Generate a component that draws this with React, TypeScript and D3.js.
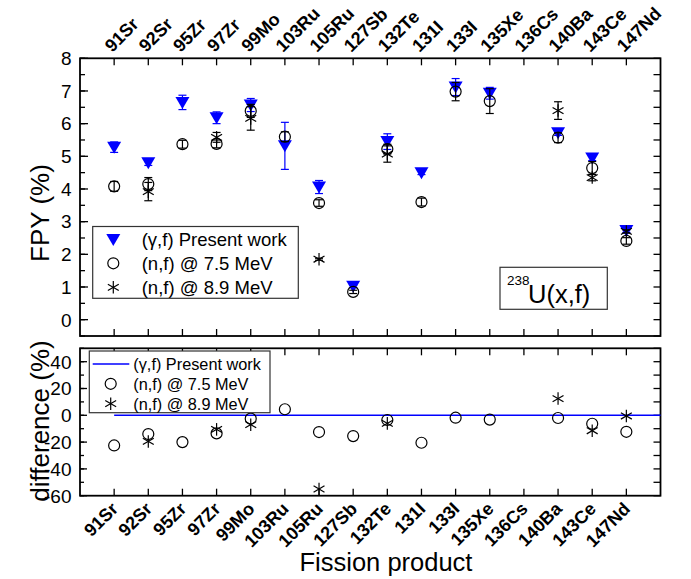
import React from "react";
import * as d3 from "d3";

// fission products, in plot order
const categories = ["91Sr", "92Sr", "95Zr", "97Zr", "99Mo", "103Ru", "105Ru", "127Sb", "132Te", "131I", "133I", "135Xe", "136Cs", "140Ba", "143Ce", "147Nd"];

// FPY (%) values
const gammaFpy = [5.28, 4.80, 6.65, 6.18, 6.57, 5.32, 4.06, 1.02, 5.45, 4.50, 7.12, 6.93, null, 5.72, 4.95, 2.73];
const gammaErr = [0.16, 0.08, 0.22, 0.18, 0.2, 0.72, 0.2, 0.04, 0.24, 0.06, 0.26, 0.18, null, 0.08, 0.08, 0.06];
const n75Fpy = [4.08, 4.15, 5.37, 5.38, 6.39, 5.6, 3.57, 0.85, 5.22, 3.6, 6.98, 6.69, null, 5.57, 4.64, 2.41];
const n75Err = [0.15, 0.2, 0.12, 0.12, 0.2, 0.15, 0.1, 0.05, 0.15, 0.12, 0.28, 0.38, null, 0.15, 0.2, 0.1];
const n89Fpy = [null, 3.92, null, 5.58, 6.16, null, 1.85, null, 5.07, null, null, null, null, 6.4, 4.35, 2.7];
const n89Err = [null, 0.28, null, 0.15, 0.36, null, 0.03, null, 0.25, null, null, null, null, 0.27, 0.1, 0.05];

// difference (%) relative to present work
const n75Diff = [-22.5, -14, -20, -13.5, -2.5, 4.5, -12.5, -15.5, -3.5, -20.5, -1.8, -3.2, null, -2, -6.3, -12.3];
const n89Diff = [null, -19.5, null, -10.5, -7, null, -55, null, -6, null, null, null, null, 12.5, -11.5, -0.5];

const FONT = "'Liberation Sans', Arial, Helvetica, sans-serif";
const BLUE = "#0000ff";

const x = d3.scaleLinear().domain([-1, 16]).range([80, 660.5]);
const yTop = d3.scaleLinear().domain([-0.5, 8]).range([336, 58.3]);
const yBot = d3.scaleLinear().domain([-60, 50]).range([495.7, 348.3]);

const triPath = "M-7,-5.5 L7,-5.5 L0,6.5 Z";

const Star = ({ cx, cy, r = 6.3 }: { cx: number; cy: number; r?: number }) => (
  <g transform={`translate(${cx},${cy})`} stroke="#000" strokeWidth={1.2}>
    {[90, 30, 150].map((a) => {
      const dx = r * Math.cos((a * Math.PI) / 180);
      const dy = r * Math.sin((a * Math.PI) / 180);
      return <line key={a} x1={-dx} y1={-dy} x2={dx} y2={dy} />;
    })}
  </g>
);

const ErrBar = ({ cx, v, e, y, color }: any) => (
  <g stroke={color} strokeWidth={1.2}>
    <line x1={cx} x2={cx} y1={y(v - e)} y2={y(v + e)} />
    <line x1={cx - 4} x2={cx + 4} y1={y(v - e)} y2={y(v - e)} />
    <line x1={cx - 4} x2={cx + 4} y1={y(v + e)} y2={y(v + e)} />
  </g>
);

const Frame = ({ y, majors, minors, majorLen = 8, minorLen = 5, rightTicks }: any) => {
  const [y0, y1] = y.range();
  const x0 = x.range()[0];
  const x1 = x.range()[1];
  return (
    <g stroke="#000" strokeWidth={1.3}>
      {categories.map((c, i) => (
        <g key={c}>
          <line x1={x(i)} x2={x(i)} y1={y0} y2={y0 - 7} />
          <line x1={x(i)} x2={x(i)} y1={y1} y2={y1 + 7} />
        </g>
      ))}
      {minors.map((t: number) => (
        <line key={"mn" + t} x1={x0} x2={x0 + minorLen} y1={y(t)} y2={y(t)} />
      ))}
      {majors.map((t: number) => (
        <line key={"mj" + t} x1={x0} x2={x0 + majorLen} y1={y(t)} y2={y(t)} />
      ))}
      {rightTicks.map((t: number) => (
        <line key={"r" + t} x1={x1} x2={x1 - 7} y1={y(t)} y2={y(t)} />
      ))}
      <rect x={x0} y={y1} width={x1 - x0} height={y0 - y1} fill="none" strokeWidth={1.8} />
    </g>
  );
};

export default function App() {
  const topMajor = yTop.ticks(9);
  const topMinor = yTop.ticks(17);
  const botMajor = yBot.ticks(6);
  const botMinor = yBot.ticks(11);

  return (
    <svg width={691} height={579} style={{ position: "absolute", left: 0, top: 0, background: "#fff" }} fontFamily={FONT}>
      {/* top category labels */}
      {categories.map((c, i) => (
        <text key={"t" + c} transform={`translate(${x(i) - 2},53) rotate(-45)`} fontSize={18} fontWeight="bold">
          {c}
        </text>
      ))}
      {/* bottom category labels */}
      {categories.map((c, i) => (
        <text key={"b" + c} transform={`translate(${x(i) + 5},510) rotate(-45)`} fontSize={18} fontWeight="bold" textAnchor="end">
          {c}
        </text>
      ))}

      {/* ===== top panel ===== */}
      <Frame y={yTop} majors={topMajor} minors={topMinor} rightTicks={topMinor} />
      {topMajor.map((t) => (
        <text key={"ty" + t} x={71.5} y={yTop(t)} dy="0.36em" textAnchor="end" fontSize={19}>
          {t}
        </text>
      ))}
      <text transform={`translate(49,213) rotate(-90)`} textAnchor="middle" fontSize={26}>
        FPY (%)
      </text>

      {gammaFpy.map((v, i) =>
        v == null ? null : <ErrBar key={"ge" + i} cx={x(i)} v={v} e={gammaErr[i]} y={yTop} color={BLUE} />
      )}
      {gammaFpy.map((v, i) =>
        v == null ? null : <path key={"g" + i} d={triPath} transform={`translate(${x(i)},${yTop(v)})`} fill={BLUE} />
      )}
      {n75Fpy.map((v, i) =>
        v == null ? null : <ErrBar key={"ae" + i} cx={x(i)} v={v} e={n75Err[i]} y={yTop} color="#000" />
      )}
      {n75Fpy.map((v, i) =>
        v == null ? null : <circle key={"a" + i} cx={x(i)} cy={yTop(v)} r={5.5} fill="none" stroke="#000" strokeWidth={1.2} />
      )}
      {n89Fpy.map((v, i) =>
        v == null ? null : <ErrBar key={"be" + i} cx={x(i)} v={v} e={n89Err[i]} y={yTop} color="#000" />
      )}
      {n89Fpy.map((v, i) => (v == null ? null : <Star key={"b" + i} cx={x(i)} cy={yTop(v)} />))}

      {/* top legend */}
      <rect x={92.7} y={226.5} width={205.6} height={71.8} fill="#fff" stroke="#333" strokeWidth={1.2} />
      <path d={triPath} transform="translate(113.3,239.5)" fill={BLUE} />
      <circle cx={113.3} cy={263.3} r={5.5} fill="none" stroke="#000" strokeWidth={1.2} />
      <Star cx={113.3} cy={287.3} />
      <g fontSize={18.5}>
        <text x={141.7} y={239.5} dy="0.36em">(γ,f) Present work</text>
        <text x={141.7} y={263.3} dy="0.36em">(n,f) @ 7.5 MeV</text>
        <text x={141.7} y={287.3} dy="0.36em">(n,f) @ 8.9 MeV</text>
      </g>

      {/* reaction label */}
      <rect x={500} y={267.3} width={107.3} height={42} fill="#fff" stroke="#333" strokeWidth={1.2} />
      <text x={507} y={285} fontSize={13.5}>238</text>
      <text x={528} y={303.3} fontSize={25.5}>U(x,f)</text>

      {/* ===== bottom panel ===== */}
      <Frame y={yBot} majors={botMajor} minors={botMinor} majorLen={7} minorLen={4} rightTicks={botMinor} />
      {botMajor.map((t) => (
        <text key={"by" + t} x={71.5} y={yBot(t)} dy="0.36em" textAnchor="end" fontSize={19}>
          {t}
        </text>
      ))}
      <text transform={`translate(49,421) rotate(-90)`} textAnchor="middle" fontSize={26}>
        difference (%)
      </text>

      <line x1={x(0)} x2={x.range()[1]} y1={yBot(0)} y2={yBot(0)} stroke={BLUE} strokeWidth={1.6} />
      {n75Diff.map((v, i) =>
        v == null ? null : <circle key={"da" + i} cx={x(i)} cy={yBot(v)} r={5.5} fill="none" stroke="#000" strokeWidth={1.2} />
      )}
      {n89Diff.map((v, i) => (v == null ? null : <Star key={"db" + i} cx={x(i)} cy={yBot(v)} />))}

      {/* bottom legend */}
      <rect x={89.3} y={351} width={180.7} height={61.7} fill="#fff" stroke="#333" strokeWidth={1.2} />
      <line x1={92.7} x2={129.3} y1={364} y2={364} stroke={BLUE} strokeWidth={1.6} />
      <circle cx={110.7} cy={383.8} r={5.5} fill="none" stroke="#000" strokeWidth={1.2} />
      <Star cx={110.7} cy={403.7} />
      <g fontSize={16.3}>
        <text x={133.3} y={364} dy="0.36em">(γ,f) Present work</text>
        <text x={133.3} y={383.8} dy="0.36em">(n,f) @ 7.5 MeV</text>
        <text x={133.3} y={403.7} dy="0.36em">(n,f) @ 8.9 MeV</text>
      </g>

      <text x={386} y={571} textAnchor="middle" fontSize={25.5}>
        Fission product
      </text>
    </svg>
  );
}
